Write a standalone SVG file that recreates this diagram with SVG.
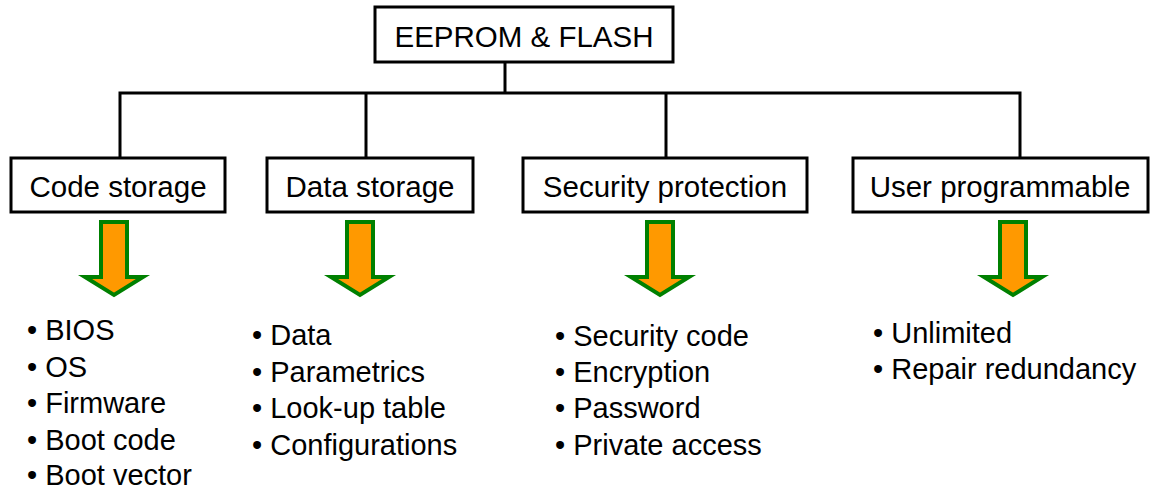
<svg xmlns="http://www.w3.org/2000/svg" width="1152" height="490" viewBox="0 0 1152 490">
  <defs>
    <style>
      .box { fill: #ffffff; stroke: #000000; stroke-width: 3; }
      .wire { fill: none; stroke: #000000; stroke-width: 3; }
      .label { font-family: "Liberation Sans", Arial, sans-serif; font-size: 29.5px; fill: #000000; text-anchor: middle; }
      .item { font-family: "Liberation Sans", Arial, sans-serif; font-size: 29px; fill: #000000; }
      .arrow { fill: #FF9900; stroke: #008000; stroke-width: 4; stroke-linejoin: miter; }
    </style>
    <!-- block arrow centred on x=0 -->
    <polygon id="down-arrow" points="-13,222 13,222 13,277 29,277 0,295 -29,277 -13,277"/>
  </defs>

  <rect width="1152" height="490" fill="#ffffff"/>

  <!-- tree connectors -->
  <g id="connectors">
    <path class="wire" d="M505,62 V93"/>
    <path class="wire" d="M120,158 V93 H1020 V158"/>
    <path class="wire" d="M366,93 V158"/>
    <path class="wire" d="M666,93 V158"/>
  </g>

  <g id="root">
    <rect class="box" x="375" y="7" width="298" height="55"/>
    <text class="label" x="524" y="47">EEPROM &amp; FLASH</text>
  </g>

  <g id="code-storage">
    <rect class="box" x="11" y="158" width="214" height="54"/>
    <text class="label" x="118" y="197">Code storage</text>
    <use href="#down-arrow" class="arrow" x="114"/>
    <text class="item" x="27" y="340">• BIOS</text>
    <text class="item" x="27" y="376.5">• OS</text>
    <text class="item" x="27" y="413">• Firmware</text>
    <text class="item" x="27" y="449.5">• Boot code</text>
    <text class="item" x="27" y="485">• Boot vector</text>
  </g>

  <g id="data-storage">
    <rect class="box" x="267" y="158" width="206" height="54"/>
    <text class="label" x="370" y="197">Data storage</text>
    <use href="#down-arrow" class="arrow" x="360"/>
    <text class="item" x="252" y="345">• Data</text>
    <text class="item" x="252" y="381.5">• Parametrics</text>
    <text class="item" x="252" y="418">• Look-up table</text>
    <text class="item" x="252" y="454.5">• Configurations</text>
  </g>

  <g id="security-protection">
    <rect class="box" x="523" y="158" width="284" height="54"/>
    <text class="label" x="665" y="197">Security protection</text>
    <use href="#down-arrow" class="arrow" x="660"/>
    <text class="item" x="555" y="346">• Security code</text>
    <text class="item" x="555" y="382">• Encryption</text>
    <text class="item" x="555" y="418">• Password</text>
    <text class="item" x="555" y="454.5">• Private access</text>
  </g>

  <g id="user-programmable">
    <rect class="box" x="853" y="158" width="295" height="54"/>
    <text class="label" x="1000" y="197">User programmable</text>
    <use href="#down-arrow" class="arrow" x="1013"/>
    <text class="item" x="873" y="343">• Unlimited</text>
    <text class="item" x="873" y="379">• Repair redundancy</text>
  </g>
</svg>
